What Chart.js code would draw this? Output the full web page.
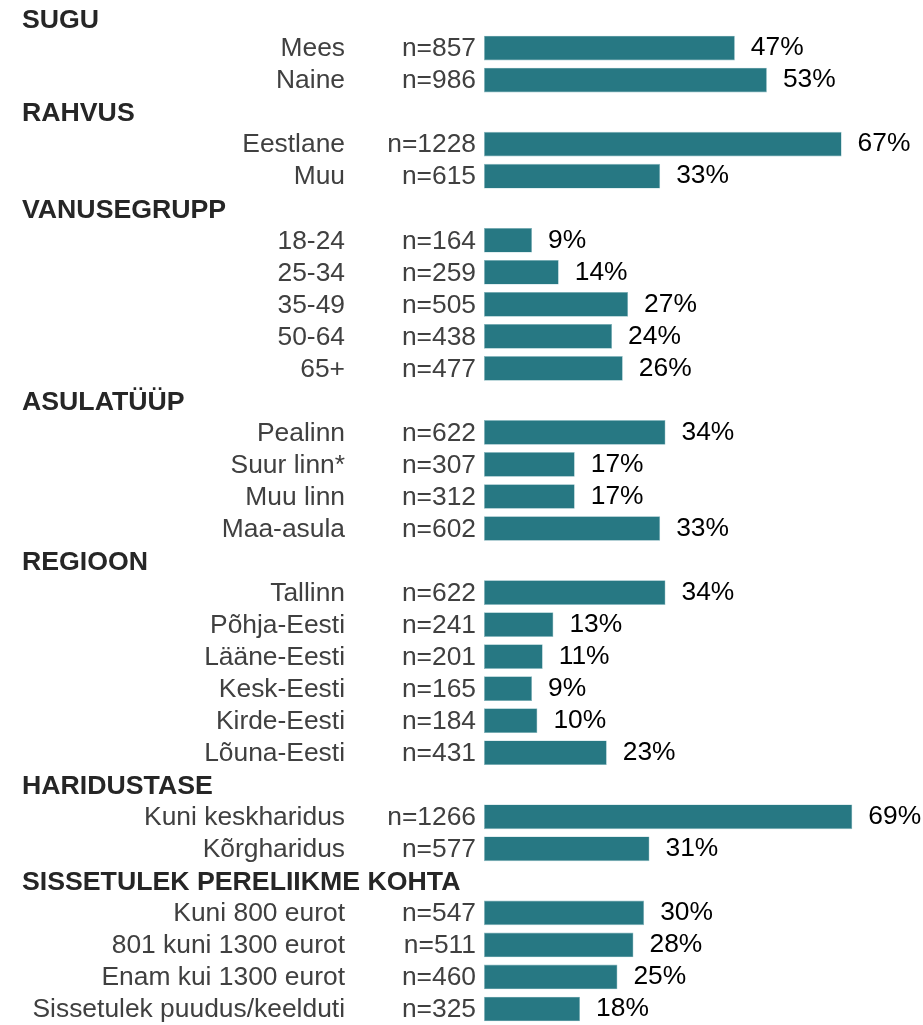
<!DOCTYPE html>
<html lang="et">
<head>
<meta charset="utf-8">
<title>Valimi jaotus</title>
<script src="https://cdn.jsdelivr.net/npm/chart.js@4/dist/chart.umd.min.js"></script>
<style>
  html, body { margin: 0; padding: 0; background: #fff; }
  #wrap { width: 923px; height: 1025px; position: relative; }
</style>
</head>
<body>
<div id="wrap"><canvas id="sampleChart"></canvas></div>
<script>
// group headers and the rows under each one
const groups = [
  'SUGU', 'RAHVUS', 'VANUSEGRUPP', 'ASULATÜÜP',
  'REGIOON', 'HARIDUSTASE', 'SISSETULEK PERELIIKME KOHTA',
];
const groupSizes = [2, 2, 5, 4, 6, 2, 4];

const categories = [
  'Mees', 'Naine',
  'Eestlane', 'Muu',
  '18-24', '25-34', '35-49', '50-64', '65+',
  'Pealinn', 'Suur linn*', 'Muu linn', 'Maa-asula',
  'Tallinn', 'Põhja-Eesti', 'Lääne-Eesti', 'Kesk-Eesti', 'Kirde-Eesti', 'Lõuna-Eesti',
  'Kuni keskharidus', 'Kõrgharidus',
  'Kuni 800 eurot', '801 kuni 1300 eurot', 'Enam kui 1300 eurot', 'Sissetulek puudus/keelduti',
];
const counts = [
  857, 986,
  1228, 615,
  164, 259, 505, 438, 477,
  622, 307, 312, 602,
  622, 241, 201, 165, 184, 431,
  1266, 577,
  547, 511, 460, 325,
];
const shares = [
  47, 53,
  67, 33,
  9, 14, 27, 24, 26,
  34, 17, 17, 33,
  34, 13, 11, 9, 10, 23,
  69, 31,
  30, 28, 25, 18,
];

// flatten into chart rows, header rows get no bar
const rows = [];
let k = 0;
groups.forEach((g, gi) => {
  rows.push({ header: true, label: g, n: null, v: null });
  for (let j = 0; j < groupSizes[gi]; j++, k++) {
    rows.push({ header: false, label: categories[k], n: counts[k], v: shares[k] });
  }
});

const FONT = '"Liberation Sans", Arial, sans-serif';
const BAR = '#277883';

const rowText = {
  id: 'rowText',
  afterDatasetsDraw(chart) {
    const { ctx, scales: { x, y } } = chart;
    ctx.save();
    ctx.textBaseline = 'middle';
    rows.forEach((r, i) => {
      const cy = y.getPixelForValue(i);
      if (r.header) {
        ctx.font = `bold 26.7px ${FONT}`;
        ctx.fillStyle = '#262626';
        ctx.textAlign = 'left';
        ctx.fillText(r.label, 22, Math.max(cy + 2, 21));
        return;
      }
      ctx.font = `26.4px ${FONT}`;
      ctx.fillStyle = '#404040';
      ctx.textAlign = 'right';
      ctx.fillText(r.label, 345, cy + 1);
      ctx.fillText('n=' + r.n, 476, cy + 1);
      ctx.fillStyle = '#000';
      ctx.textAlign = 'left';
      ctx.fillText(r.v + '%', x.getPixelForValue(r.v) + 16, cy);
    });
    ctx.restore();
  },
};

new Chart(document.getElementById('sampleChart'), {
  type: 'bar',
  data: {
    labels: rows.map((r) => r.label),
    datasets: [{
      data: rows.map((r) => r.v),
      backgroundColor: BAR,
      borderColor: '#8dbcc2',
      borderWidth: 0.6,
      borderSkipped: false,
      categoryPercentage: 1,
      barPercentage: 0.77,
    }],
  },
  options: {
    indexAxis: 'y',
    responsive: true,
    maintainAspectRatio: false,
    animation: false,
    layout: { padding: { left: 484, right: 12, top: 0, bottom: 0 } },
    plugins: { legend: { display: false }, tooltip: { enabled: false } },
    scales: {
      x: { display: false, min: 0, max: 80 },
      y: { display: false },
    },
  },
  plugins: [rowText],
});
</script>
</body>
</html>
